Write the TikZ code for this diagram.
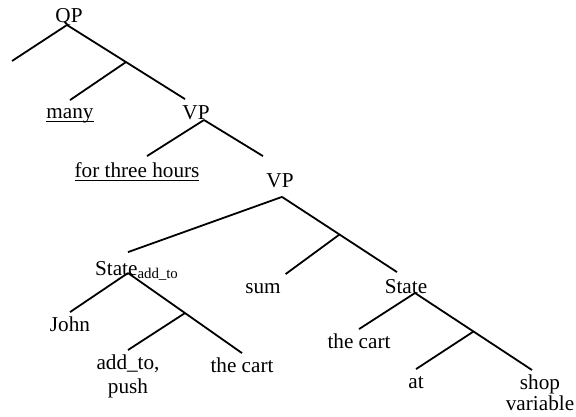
\documentclass[tikz,border=0pt]{standalone}
\usepackage{fontspec}
\setmainfont{Liberation Serif}
\usetikzlibrary{positioning,calc}
\newcommand{\wordline}[1]{\underline{\raisebox{0pt}[\height][0pt]{#1}}}

\begin{document}
\begin{tikzpicture}[x=0.5pt,y=-0.5pt,line width=0.9pt,
  font=\fontsize{10.6}{12}\selectfont,
  cat/.style={anchor=base, inner sep=2pt, text height=7pt, text depth=2pt},
  leaf/.style={anchor=base, inner sep=2pt, text height=7pt, text depth=2pt},
  leaftwo/.style={anchor=north, inner sep=2pt, align=center}]
\useasboundingbox (0,0) rectangle (576,416);
% categories
\node[cat] (QP) at (69,23) {QP};
\node[cat] (VPa) at (196,120) {VP};
\node[cat] (VPb) at (280,188) {VP};
\node[cat] (Sadd) at (137,275) {State\textsubscript{add\_to}};
\node[cat] (St) at (406,293) {State};
% words
\node[leaf] (many) at (70,119) {\wordline{many}};
\node[leaf] (hours) at (137,178) {\wordline{for three hours}};
\node[leaf] (sum) at (263,293) {sum};
\node[leaf] (john) at (70,331) {John};
\node[leaftwo] (push) at (128,350) {add\_to,\\push};
\node[leaf] (cartl) at (242,372) {the cart};
\node[leaf] (cartr) at (359,348) {the cart};
\node[leaf] (at) at (416,388) {at};
\node[leaftwo] (shop) at (540,370) {shop\\[-1.5pt]variable};
% where the branches hang from
\coordinate (QPb) at ([xshift=-1pt,yshift=-1pt]QP.base);
\coordinate (VPab) at ([xshift=4pt]VPa.base);
\coordinate (VPbb) at ([xshift=1pt]VPb.south);
\coordinate (Saddb) at ([xshift=-4.5pt,yshift=1pt]Sadd.base);
\coordinate (Stb) at ([xshift=4.5pt]St.base);
\coordinate (QPl) at (12,61);
% branches
\draw (QPb) -- (QPl);
\draw (QPb) -- coordinate[pos=0.5] (j1) ([xshift=-5.5pt,yshift=1pt]VPa.north);
\draw (j1) -- (many.north);
\draw (VPab) -- ([xshift=5pt,yshift=1.5pt]hours.north);
\draw (VPab) -- ([xshift=-8.5pt,yshift=6.5pt]VPb.north);
\draw (VPbb) -- ([xshift=-4.5pt,yshift=2pt]Sadd.north);
\draw (VPbb) -- coordinate[pos=0.5] (j2) ([xshift=-4.5pt,yshift=1pt]St.north);
\draw (j2) -- (sum.north east);
\draw (Saddb) -- (john.north);
\draw (Saddb) -- coordinate[pos=0.5] (j3) (cartl.north);
\draw (j3) -- (push.north);
\draw (Stb) -- (cartr.north);
\draw (Stb) -- coordinate[pos=0.5] (j4) ([xshift=-4pt]shop.north);
\draw (j4) -- (at.north);
\end{tikzpicture}
\end{document}
